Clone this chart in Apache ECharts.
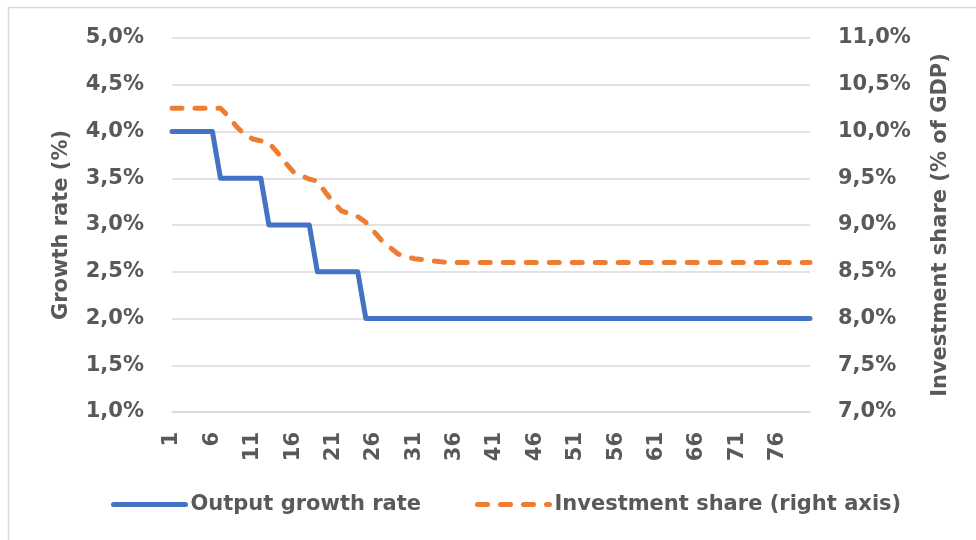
<!DOCTYPE html>
<html>
<head>
<meta charset="utf-8">
<script src="https://cdn.jsdelivr.net/npm/echarts@6/dist/echarts.min.js"></script>
<style>
  html, body { margin: 0; padding: 0; background: #ffffff; }
  #chart { width: 976px; height: 540px; }
</style>
</head>
<body>
<div id="chart"></div>
<script>
// Periods 1..80
const periods = Array.from({ length: 80 }, (_, i) => String(i + 1));

// Output growth rate (%), stepping down every six periods
const growthRate = [
  4.0, 4.0, 4.0, 4.0, 4.0, 4.0,
  3.5, 3.5, 3.5, 3.5, 3.5, 3.5,
  3.0, 3.0, 3.0, 3.0, 3.0, 3.0,
  2.5, 2.5, 2.5, 2.5, 2.5, 2.5,
  2.0, 2.0, 2.0, 2.0, 2.0, 2.0, 2.0, 2.0, 2.0, 2.0,
  2.0, 2.0, 2.0, 2.0, 2.0, 2.0, 2.0, 2.0, 2.0, 2.0,
  2.0, 2.0, 2.0, 2.0, 2.0, 2.0, 2.0, 2.0, 2.0, 2.0,
  2.0, 2.0, 2.0, 2.0, 2.0, 2.0, 2.0, 2.0, 2.0, 2.0,
  2.0, 2.0, 2.0, 2.0, 2.0, 2.0, 2.0, 2.0, 2.0, 2.0,
  2.0, 2.0, 2.0, 2.0, 2.0, 2.0
];

// Investment share (% of GDP), right axis
const investmentShare = [
  10.25, 10.25, 10.25, 10.25, 10.25, 10.25, 10.25,
  10.16, 10.05, 9.97, 9.92, 9.90,
  9.88, 9.78, 9.67, 9.57, 9.53, 9.49,
  9.47, 9.35, 9.24, 9.15, 9.12, 9.09,
  9.03, 8.93, 8.83, 8.76, 8.69, 8.66, 8.64, 8.63, 8.62, 8.61,
  8.60, 8.60, 8.60, 8.60, 8.60, 8.60, 8.60, 8.60, 8.60, 8.60,
  8.60, 8.60, 8.60, 8.60, 8.60, 8.60, 8.60, 8.60, 8.60, 8.60,
  8.60, 8.60, 8.60, 8.60, 8.60, 8.60, 8.60, 8.60, 8.60, 8.60,
  8.60, 8.60, 8.60, 8.60, 8.60, 8.60, 8.60, 8.60, 8.60, 8.60,
  8.60, 8.60, 8.60, 8.60, 8.60, 8.60
];

const seriesNames = ['Output growth rate', 'Investment share (right axis)'];
const axisTitles = ['Growth rate (%)', 'Investment share (% of GDP)'];

const FONT = 'DejaVu Sans';
const TEXT = '#595959';
const GRID = '#d9d9d9';

const pct = v => v.toFixed(1).replace('.', ',') + '%';

const chart = echarts.init(document.getElementById('chart'), null, { renderer: 'canvas' });

const labelStyle = { color: TEXT, fontFamily: FONT, fontWeight: 'bold', fontSize: 21 };

chart.setOption({
  backgroundColor: '#ffffff',
  animation: false,
  graphic: [{
    type: 'rect',
    shape: { x: 8.5, y: 7.5, width: 1000, height: 600 },
    style: { fill: 'none', stroke: GRID, lineWidth: 1.5 },
    silent: true
  }],
  grid: { left: 172, right: 166, top: 38, bottom: 128, containLabel: false },
  legend: {
    data: seriesNames,
    left: 106,
    top: 489,
    itemWidth: 72,
    itemHeight: 14,
    itemGap: 54,
    itemStyle: { opacity: 0 },
    lineStyle: { width: 5, cap: 'round' },
    textStyle: labelStyle
  },
  xAxis: {
    type: 'category',
    data: periods,
    boundaryGap: false,
    axisLine: { show: true, lineStyle: { color: GRID, width: 1.5 } },
    axisTick: { show: false },
    axisLabel: { ...labelStyle, interval: 4, rotate: 90, margin: 20 },
    splitLine: { show: false }
  },
  yAxis: [
    {
      type: 'value',
      min: 1, max: 5, interval: 0.5,
      name: axisTitles[0],
      nameLocation: 'middle',
      nameRotate: 90,
      nameGap: 100,
      nameTextStyle: labelStyle,
      axisLine: { show: false },
      axisTick: { show: false },
      axisLabel: { ...labelStyle, margin: 28, formatter: pct },
      splitLine: { show: true, lineStyle: { color: GRID, width: 1.5 } }
    },
    {
      type: 'value',
      min: 7, max: 11, interval: 0.5,
      position: 'right',
      name: axisTitles[1],
      nameLocation: 'middle',
      nameRotate: 90,
      nameGap: 120,
      nameTextStyle: labelStyle,
      axisLine: { show: false },
      axisTick: { show: false },
      axisLabel: { ...labelStyle, margin: 28, formatter: pct },
      splitLine: { show: false }
    }
  ],
  series: [
    {
      name: seriesNames[0],
      type: 'line',
      yAxisIndex: 0,
      data: growthRate,
      symbol: 'none',
      lineStyle: { color: '#4472C4', width: 5, cap: 'round', join: 'round' },
      itemStyle: { color: '#4472C4' },
      z: 3
    },
    {
      name: seriesNames[1],
      type: 'line',
      yAxisIndex: 1,
      data: investmentShare,
      symbol: 'none',
      lineStyle: { color: '#ED7D31', width: 5, type: [10, 13], cap: 'round', join: 'round' },
      itemStyle: { color: '#ED7D31' },
      z: 2
    }
  ]
});
</script>
</body>
</html>
